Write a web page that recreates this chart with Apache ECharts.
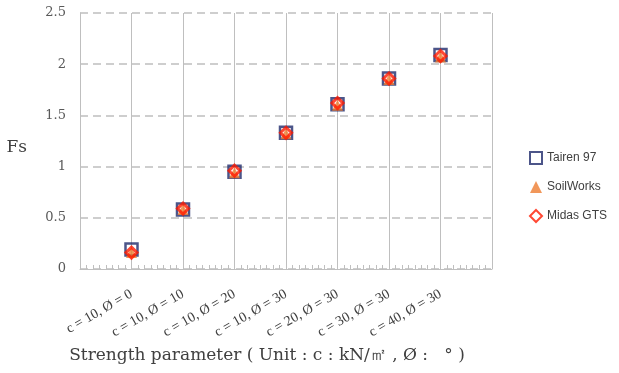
<!DOCTYPE html>
<html lang="en">
<head>
    <meta charset="UTF-8"/>
    <title>Fs</title>
    <script src="https://cdn.jsdelivr.net/npm/echarts@6/dist/echarts.min.js"></script>
</head>
<body style="margin:0">
<div id="main" style="width:619px;height:373px;"></div>
<script type="text/javascript">
    var categories = ['c = 10, Ø = 0', 'c = 10, Ø = 10', 'c = 10, Ø = 20', 'c = 10, Ø = 30',
        'c = 20, Ø = 30', 'c = 30, Ø = 30', 'c = 40, Ø = 30'];
    var tairen = [0.19, 0.58, 0.95, 1.33, 1.61, 1.86, 2.09];
    var soilWorks = [0.16, 0.58, 0.94, 1.32, 1.60, 1.85, 2.07];
    var midas = [0.16, 0.59, 0.96, 1.33, 1.62, 1.86, 2.08];
    var yTicks = [0, 0.5, 1, 1.5, 2, 2.5];

    // categories sit at 1..7 on a 0..8 value axis
    function pts(arr) {
        return arr.map(function (v, i) { return [i + 1, v]; });
    }

    var myChart = echarts.init(document.getElementById('main'));
    var serif = 'Liberation Serif';

    var option = {
        animation: false,
        grid: {left: 80, right: 127, top: 13, bottom: 104, containLabel: false, outerBoundsMode: 'none'},
        legend: {
            orient: 'vertical',
            left: 524,
            top: 146,
            itemGap: 16,
            itemWidth: 12,
            itemHeight: 12,
            textStyle: {fontFamily: 'Liberation Sans', fontSize: 12, color: '#404040'},
            data: ['Tairen 97', 'SoilWorks', 'Midas GTS']
        },
        xAxis: [{
            type: 'value',
            min: 0,
            max: 8,
            interval: 1,
            name: 'Strength parameter ( Unit : c : kN/㎡ , Ø :   ° )',
            nameLocation: 'middle',
            nameGap: 78,
            nameTextStyle: {fontFamily: 'DejaVu Serif', fontSize: 17, color: '#404040', padding: [0, 0, 0, -38]},
            axisLine: {show: true, lineStyle: {color: '#bfbfbf'}},
            axisTick: {show: false},
            splitLine: {show: true, lineStyle: {color: '#bfbfbf', width: 1}},
            axisLabel: {
                rotate: 30,
                fontFamily: serif,
                fontSize: 14,
                color: '#404040',
                margin: 24,
                formatter: function (v) {
                    return categories[v - 1] || '';
                }
            }
        }, {
            // helper axis: only draws the small upward minor ticks
            type: 'value',
            position: 'bottom',
            offset: -4,
            min: 0,
            max: 8,
            interval: 1,
            axisLine: {show: false},
            axisTick: {show: false},
            axisLabel: {show: false},
            splitLine: {show: false},
            minorTick: {show: true, splitNumber: 8, length: 4, lineStyle: {color: '#bfbfbf'}}
        }],
        yAxis: {
            type: 'value',
            min: 0,
            max: 2.5,
            interval: 0.5,
            name: 'Fs',
            nameLocation: 'middle',
            nameRotate: 0,
            nameGap: 53,
            nameTextStyle: {fontFamily: 'DejaVu Serif', fontSize: 17, color: '#404040', verticalAlign: 'top', padding: [-2, 0, 0, 0]},
            axisLine: {show: true, lineStyle: {color: '#bfbfbf'}},
            axisTick: {show: false},
            splitLine: {show: true, lineStyle: {color: '#bfbfbf', type: [8, 5], width: 1.5}},
            axisLabel: {
                fontFamily: 'DejaVu Serif',
                fontSize: 13,
                color: '#595959',
                margin: 14,
                formatter: function (v) {
                    return yTicks.indexOf(v) >= 0 ? String(v) : '';
                }
            }
        },
        series: [
            {
                name: 'Tairen 97',
                type: 'scatter',
                symbol: 'rect',
                symbolSize: 12,
                itemStyle: {color: 'rgba(255,255,255,0)', borderColor: '#1f2a6b', borderWidth: 2.5},
                data: pts(tairen)
            },
            {
                name: 'SoilWorks',
                type: 'scatter',
                symbol: 'triangle',
                symbolSize: 11,
                itemStyle: {color: '#ed7d31'},
                data: pts(soilWorks)
            },
            {
                name: 'Midas GTS',
                type: 'scatter',
                symbol: 'diamond',
                symbolSize: 11,
                itemStyle: {color: 'rgba(255,255,255,0)', borderColor: '#ff1a00', borderWidth: 3},
                data: pts(midas)
            }
        ]
    };

    myChart.setOption(option);
</script>
</body>
</html>
